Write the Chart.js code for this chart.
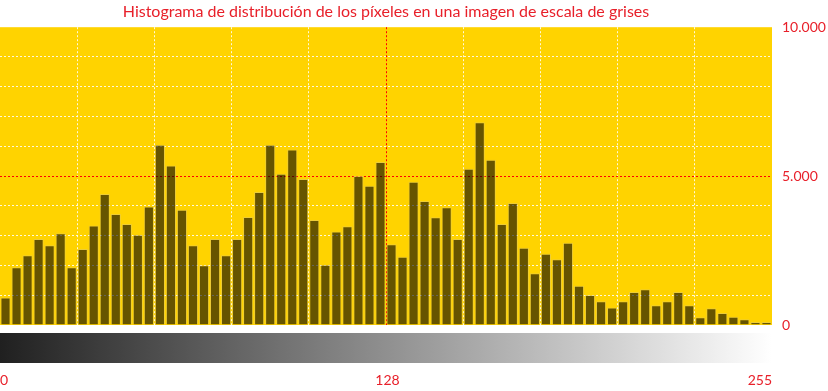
<!DOCTYPE html>
<html>
<head>
<meta charset="utf-8">
<script src="https://cdn.jsdelivr.net/npm/chart.js@4.4.0/dist/chart.umd.min.js"></script>
<style>
body { margin: 0; background: #ffffff; }
canvas { display: block; }
</style>
</head>
<body>
<canvas id="histo" width="828" height="391"></canvas>
<script>
var titulo = "Histograma de distribución de los píxeles en una imagen de escala de grises";

// inicio de cada intervalo (nivel de gris)
var bins = [0, 3, 7, 10, 14, 18, 21, 25, 29, 32, 36, 40, 43, 47, 51, 54, 58, 62, 65, 69,
            73, 76, 80, 84, 87, 91, 95, 98, 102, 106, 109, 113, 117, 120, 124, 128, 131, 135, 138, 142,
            146, 149, 153, 157, 160, 164, 168, 171, 175, 179, 182, 186, 190, 193, 197, 201, 204, 208, 212, 215,
            219, 223, 226, 230, 234, 237, 241, 245, 248, 252];

// cantidad de pixeles por intervalo
var pixeles = [920, 1940, 2340, 2890, 2680, 3080, 1940, 2550, 3340, 4400,
               3730, 3390, 3030, 3980, 6050, 5360, 3870, 2680, 2010, 2890,
               2340, 2890, 3630, 4470, 6050, 5080, 5890, 4900, 3530, 2020,
               3140, 3320, 5000, 4680, 5470, 2710, 2290, 4810, 4160, 3620,
               3950, 2890, 5250, 6810, 5550, 3390, 4100, 2590, 1740, 2390,
               2210, 2760, 1320, 1010, 800, 590, 800, 1110, 1200, 660,
               800, 1110, 660, 260, 560, 400, 280, 190, 100, 100];

var etiquetas_x = [0, 128, 255];
var etiquetas_y = [0, 5000, 10000];
var lineas_x = [0, 25.5, 51, 76.5, 102, 127.5, 153, 178.5, 204, 229.5, 255];

var rojo = "#e8202a";
var amarillo = "#ffd300";

function miles(v){
    return String(v).replace(/\B(?=(\d{3})+(?!\d))/g, ".");
}

function colorLinea(c, borde, centro){
    var v = c.tick ? c.tick.value : null;
    if (v === null || v == 0 || v == borde) return "rgba(0,0,0,0)";
    if (v == centro) return "#ff0000";
    return "rgba(255,255,255,0.85)";
}

var fondo = {
    id: "fondo",
    beforeDraw: function(chart){
        var a = chart.chartArea;
        var ctx = chart.ctx;
        ctx.save();
        ctx.fillStyle = amarillo;
        ctx.fillRect(a.left, a.top, a.right - a.left, a.bottom - a.top);
        ctx.restore();
    },
    afterDraw: function(chart){
        var a = chart.chartArea;
        var ctx = chart.ctx;
        ctx.save();
        var g = ctx.createLinearGradient(a.left, 0, a.right, 0);
        g.addColorStop(0, "#202020");
        g.addColorStop(1, "#ffffff");
        ctx.fillStyle = g;
        ctx.fillRect(a.left, a.bottom + 8, a.right - a.left, 30);
        ctx.restore();
    }
};

var ctx = document.getElementById("histo").getContext("2d");
var chart = new Chart(ctx, {
    type: "bar",
    data: {
        labels: bins,
        datasets: [{
            label: "píxeles",
            data: pixeles,
            backgroundColor: "rgba(0, 0, 0, 0.6)",
            borderColor: "rgba(225, 200, 90, 0.6)",
            borderWidth: 1,
            barPercentage: 0.92,
            categoryPercentage: 1,
            xAxisID: "x"
        }]
    },
    plugins: [fondo],
    options: {
        responsive: false,
        animation: false,
        layout: { padding: 0 },
        plugins: {
            legend: { display: false },
            tooltip: { enabled: false },
            title: {
                display: true,
                text: titulo,
                fullSize: false,
                color: rojo,
                font: { family: "Lato", size: 16, weight: "normal" },
                padding: { top: 2, bottom: 6 }
            }
        },
        scales: {
            x: {
                type: "category",
                display: false,
                offset: true
            },
            xg: {
                type: "linear",
                position: "bottom",
                min: 0,
                max: 255,
                offset: false,
                afterBuildTicks: function(s){
                    s.ticks = lineas_x.map(function(v){ return { value: v }; });
                },
                afterFit: function(s){
                    s.height = 0;
                    s.paddingLeft = 0;
                    s.paddingRight = 0;
                },
                ticks: { display: false },
                border: { display: false, dash: [2, 2] },
                grid: {
                    offset: false,
                    drawTicks: false,
                    lineWidth: 1,
                    color: function(c){ return colorLinea(c, 255, 127.5); }
                }
            },
            xl: {
                type: "linear",
                position: "bottom",
                min: 0,
                max: 255,
                offset: false,
                afterBuildTicks: function(s){
                    s.ticks = etiquetas_x.map(function(v){ return { value: v }; });
                },
                afterFit: function(s){
                    s.height = 66;
                    s.paddingLeft = 0;
                    s.paddingRight = 0;
                },
                grid: { display: false, offset: false, drawTicks: false },
                border: { display: false },
                ticks: {
                    align: "inner",
                    padding: 47,
                    maxRotation: 0,
                    color: rojo,
                    font: { family: "Lato", size: 14 }
                }
            },
            y: {
                position: "right",
                min: 0,
                max: 10000,
                afterFit: function(s){ s.width = 56; },
                border: { display: false, dash: [2, 2] },
                grid: {
                    drawTicks: false,
                    color: function(c){ return colorLinea(c, 10000, 5000); }
                },
                ticks: {
                    stepSize: 1000,
                    padding: 10,
                    crossAlign: "near",
                    color: rojo,
                    font: { family: "Lato", size: 14 },
                    callback: function(v){
                        return etiquetas_y.indexOf(v) >= 0 ? miles(v) : "";
                    }
                }
            }
        }
    }
});
</script>
</body>
</html>
